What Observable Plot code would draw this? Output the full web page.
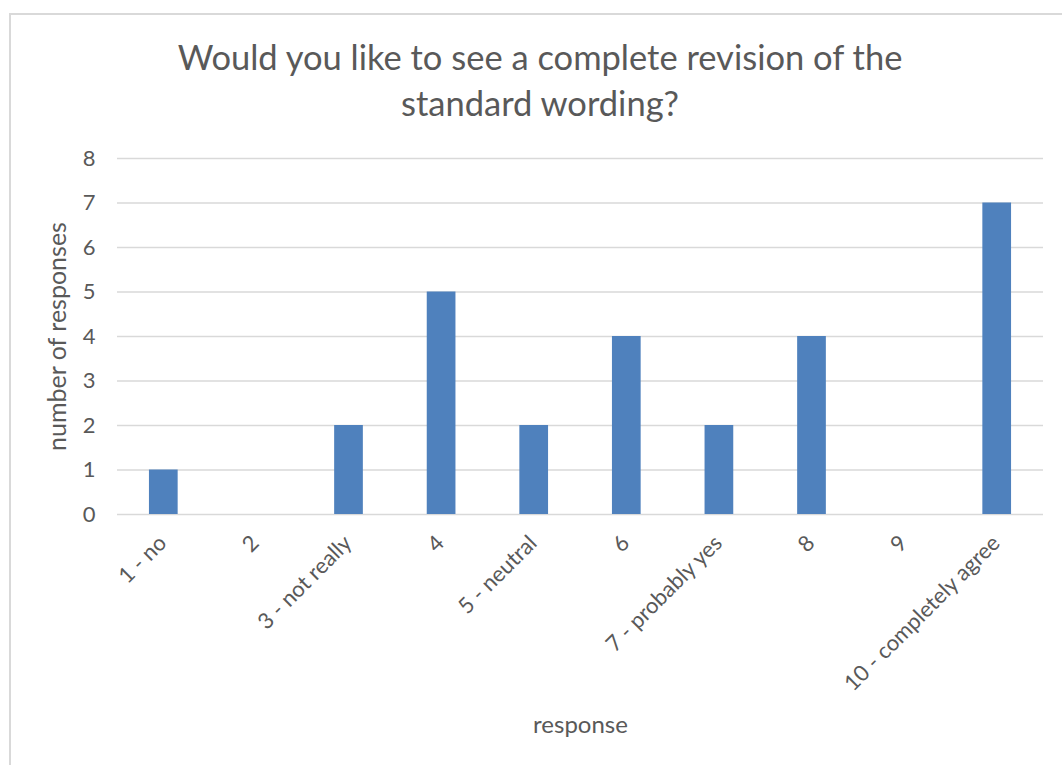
<!DOCTYPE html>
<html>
<head>
<meta charset="utf-8">
<script src="https://cdn.jsdelivr.net/npm/d3@7"></script>
<script src="https://cdn.jsdelivr.net/npm/@observablehq/plot@0.6"></script>
<style>
  html, body { margin: 0; padding: 0; background: #fff; width: 1062px; height: 765px; overflow: hidden; }
  #frame { position: absolute; left: 9px; top: 13px; width: 1100px; height: 800px; border: 2px solid #d9d9d9; box-sizing: border-box; }
  #title { position: absolute; left: 0; top: 34px; width: 1080px; text-align: center; font-family: Lato, sans-serif; font-size: 34.5px; line-height: 46px; color: #595959; }
  #chart { position: absolute; left: 0; top: 0; }
</style>
</head>
<body>
<div id="frame"></div>
<div id="title">Would you like to see a complete revision of the<br>standard wording?</div>
<div id="chart"></div>
<script>
const categories = ["1 - no", "2", "3 - not really", "4", "5 - neutral", "6", "7 - probably yes", "8", "9", "10 - completely agree"];
const counts = [1, 0, 2, 5, 2, 4, 2, 4, 0, 7];
const yTicks = [0, 1, 2, 3, 4, 5, 6, 7, 8];
const yLabel = "number of responses";
const xLabel = "response";

const data = categories.map((c, i) => ({category: c, count: counts[i]}));

const chart = Plot.plot({
  width: 1062,
  height: 765,
  marginLeft: 117,
  marginRight: 19,
  marginTop: 158,
  marginBottom: 251,
  style: {fontFamily: "Lato, sans-serif", fontSize: "22px", color: "#595959", background: "transparent"},
  x: {domain: categories, paddingInner: 0.69, paddingOuter: 0.345, round: false, axis: null},
  y: {domain: [0, 8], axis: null},
  marks: [
    Plot.gridY(yTicks, {stroke: "#d9d9d9", strokeOpacity: 1, strokeWidth: 1.5}),
    Plot.barY(data, {x: "category", y: "count", fill: "#4f81bd"}),
    Plot.axisY(yTicks, {tickSize: 0, tickPadding: 22, fontSize: 22, fill: "#595959", tickFormat: d => d, label: null}),
    Plot.axisX({tickSize: 0, tickRotate: -45, tickPadding: 25, dx: -1, fontSize: 22, fill: "#595959", label: null}),
    Plot.text([yLabel], {frameAnchor: "left", textAnchor: "middle", dx: -60, rotate: -90, fontSize: 25, fill: "#595959", text: d => d}),
    Plot.text([xLabel], {frameAnchor: "bottom", textAnchor: "middle", dy: 218, dx: 0, fontSize: 24, fill: "#595959", text: d => d})
  ]
});
document.getElementById("chart").appendChild(chart);
</script>
</body>
</html>
